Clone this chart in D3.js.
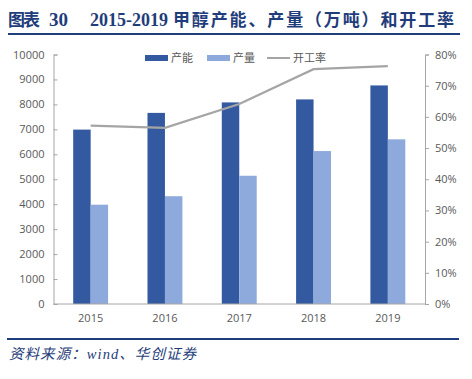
<!DOCTYPE html>
<html><head><meta charset="utf-8">
<script src="https://cdn.jsdelivr.net/npm/d3@7/dist/d3.min.js"></script>
<style>body{margin:0;background:#fff}svg{display:block}</style>
</head><body>
<svg id="c" width="472" height="379"></svg>
<script>
const years = ["2015","2016","2017","2018","2019"];
const capacity = [6990, 7660, 8080, 8200, 8760];
const production = [3980, 4320, 5140, 6130, 6600];
const utilization = [0.572, 0.565, 0.641, 0.753, 0.763];
const leftTicks = [0,1000,2000,3000,4000,5000,6000,7000,8000,9000,10000];
const rightTicks = [0,0.1,0.2,0.3,0.4,0.5,0.6,0.7,0.8];

const svg = d3.select("#c");
const navy = "#1F3D7A";
const dark = "#335AA1", light = "#8EAADC", lineC = "#A5A5A5", txt = "#595959", axisC = "#A6A6A6";
const L = 53.5, R = 425, T = 54.5, B = 304;

// title
const serif = "'Liberation Serif','Noto Sans CJK SC',serif";
const title = svg.append("text").attr("y", 26)
  .attr("font-family", serif).attr("font-weight", "bold").attr("font-size", 17).attr("fill", navy);
title.append("tspan").attr("x", 8).attr("textLength", 32).text("图表");
title.append("tspan").attr("x", 49).attr("font-size", 19).text("30");
title.append("tspan").attr("x", 90).attr("font-size", 18).attr("textLength", 78).text("2015-2019");
title.append("tspan").attr("x", 173).attr("textLength", 281).text("甲醇产能、产量（万吨）和开工率");
svg.append("line").attr("x1", 8).attr("x2", 460).attr("y1", 34).attr("y2", 34)
  .attr("stroke", navy).attr("stroke-width", 2.2);

const x = d3.scaleBand().domain(years).range([L, R]).paddingInner(0.53).paddingOuter(0.265);
const x1 = d3.scaleBand().domain(["cap","prod"]).range([0, x.bandwidth()]);
const y = d3.scaleLinear().domain([0, 10000]).range([B, T]);
const y2 = d3.scaleLinear().domain([0, 0.8]).range([B, T]);
const xc = d => x(d) + x.bandwidth()/2;

// bars
const g = svg.append("g");
g.selectAll("rect.cap").data(years).join("rect")
  .attr("x", d => x(d) + x1("cap")).attr("width", x1.bandwidth())
  .attr("y", (d,i) => y(capacity[i])).attr("height", (d,i) => B - y(capacity[i]))
  .attr("fill", dark);
g.selectAll("rect.prod").data(years).join("rect")
  .attr("x", d => x(d) + x1("prod")).attr("width", x1.bandwidth())
  .attr("y", (d,i) => y(production[i])).attr("height", (d,i) => B - y(production[i]))
  .attr("fill", light);

// line
const line = d3.line().x((d,i) => xc(years[i])).y(d => y2(d));
svg.append("path").datum(utilization).attr("d", line)
  .attr("fill", "none").attr("stroke", lineC).attr("stroke-width", 2.2);

// axes
const font = "'Open Sans','DejaVu Sans',sans-serif";
const la = svg.append("g").attr("transform", `translate(${L},0)`)
  .call(d3.axisLeft(y).tickValues(leftTicks).tickSize(-4).tickPadding(9).tickFormat(d3.format("d")));
const ra = svg.append("g").attr("transform", `translate(${R},0)`)
  .call(d3.axisRight(y2).tickValues(rightTicks).tickSize(4).tickPadding(6).tickFormat(d3.format(".0%")));
const xa = svg.append("g").attr("transform", `translate(0,${B})`)
  .call(d3.axisBottom(x).tickSize(0).tickPadding(10));
xa.select(".domain").attr("d", `M${L},0H${R}`);
[la, ra, xa].forEach(a => {
  a.select(".domain").attr("stroke", axisC);
  a.selectAll(".tick line").attr("stroke", axisC);
  a.selectAll("text").attr("fill", txt).attr("font-size", 11).attr("font-family", font);
});
la.selectAll(".tick line").attr("x2", 4);

// legend
const lg = svg.append("g").attr("font-family", "'Noto Sans CJK SC',sans-serif").attr("font-size", 11).attr("fill", txt);
const items = [{k:"产能", c:dark, t:"rect", x:145},{k:"产量", c:light, t:"rect", x:207},{k:"开工率", c:lineC, t:"line", x:267}];
items.forEach(it => {
  if (it.t === "rect") lg.append("rect").attr("x", it.x).attr("y", 55).attr("width", 23).attr("height", 6).attr("fill", it.c);
  else lg.append("line").attr("x1", it.x).attr("x2", it.x+23).attr("y1", 58).attr("y2", 58).attr("stroke", it.c).attr("stroke-width", 2);
  lg.append("text").attr("x", it.x + 26).attr("y", 62).text(it.k);
});

// footer
svg.append("line").attr("x1", 7).attr("x2", 459).attr("y1", 339).attr("y2", 339)
  .attr("stroke", navy).attr("stroke-width", 2.2);
svg.append("text").attr("x", 9).attr("y", 359)
  .attr("font-family", serif).attr("font-style", "italic")
  .attr("font-size", 14.5).attr("fill", navy).attr("textLength", 187)
  .text("资料来源：wind、华创证券");
</script>
</body></html>
